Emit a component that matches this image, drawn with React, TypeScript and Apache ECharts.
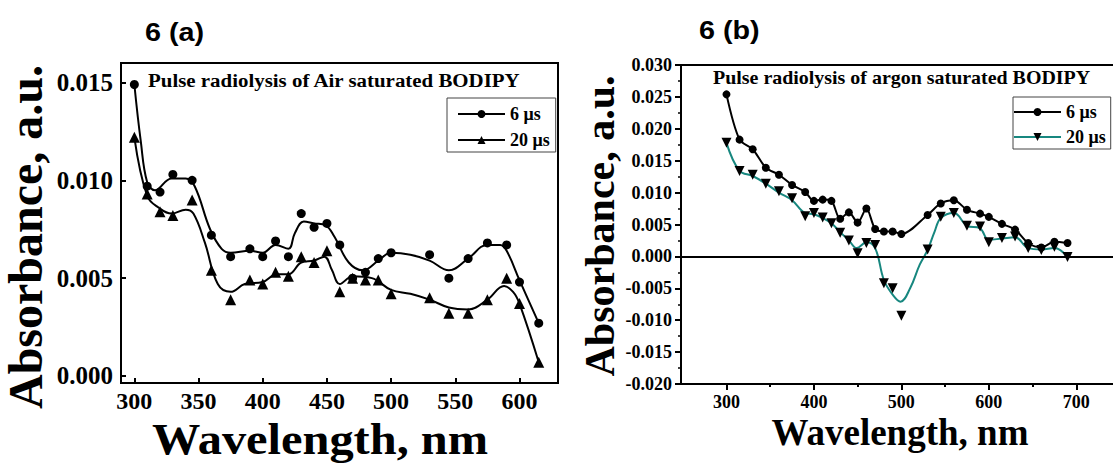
import React, { useEffect, useRef } from "react";
import * as echarts from "echarts";

// ---------- Data: 6 (a) Pulse radiolysis of Air saturated BODIPY ----------
const airWl = [300, 310, 320, 330, 345, 360, 375, 390, 400, 410, 420, 430, 440, 450, 460, 470, 480, 490, 500, 530, 545, 560, 575, 590, 600, 615];
const air6us = [0.0149, 0.0097, 0.0094, 0.0103, 0.0100, 0.0072, 0.0061, 0.0065, 0.0061, 0.0069, 0.0061, 0.0083, 0.0076, 0.0078, 0.0067, 0.0050, 0.0053, 0.0060, 0.0063, 0.0062, 0.0050, 0.0060, 0.0068, 0.0067, 0.0048, 0.0027];
const air20us = [0.0122, 0.0093, 0.0084, 0.0082, 0.0090, 0.0054, 0.0039, 0.0049, 0.0047, 0.0053, 0.0051, 0.0061, 0.0058, 0.0064, 0.0043, 0.0050, 0.0049, 0.0049, 0.0042, 0.0040, 0.0032, 0.0032, 0.0039, 0.0050, 0.0037, 0.0007];
// fitted (smoothed) curves as drawn in the figure
const air6usFitWl = [300, 305, 310, 316, 329, 340, 347, 359, 368, 375, 390, 400, 410, 420, 425, 432, 440, 449, 456, 467, 478, 490, 500, 515, 530, 545, 560, 575, 585, 590, 600, 615];
const air6usFitAbs = [0.0149, 0.0120, 0.0099, 0.0095, 0.0101, 0.0101, 0.0097, 0.0075, 0.0065, 0.0063, 0.0064, 0.0063, 0.0067, 0.0065, 0.0073, 0.0079, 0.0078, 0.0077, 0.0071, 0.0058, 0.0054, 0.0059, 0.0063, 0.0062, 0.0059, 0.0054, 0.0060, 0.0067, 0.0067, 0.0064, 0.0049, 0.0027];
const air20usFitWl = [300, 310, 319, 329, 340, 346, 355, 365, 375, 386, 400, 411, 420, 430, 440, 448, 454, 460, 470, 485, 500, 515, 530, 545, 560, 575, 588, 595, 600, 615];
const air20usFitAbs = [0.0122, 0.0092, 0.0086, 0.0083, 0.0085, 0.0083, 0.0068, 0.0047, 0.0043, 0.0047, 0.0048, 0.0052, 0.0052, 0.0058, 0.0059, 0.0061, 0.0054, 0.0047, 0.0051, 0.0050, 0.0044, 0.0042, 0.0039, 0.0035, 0.0034, 0.0039, 0.0046, 0.0043, 0.0037, 0.0007];

// ---------- Data: 6 (b) Pulse radiolysis of argon saturated BODIPY ----------
const argonWl = [300, 315, 330, 345, 360, 375, 390, 400, 410, 420, 430, 440, 450, 460, 470, 480, 490, 500, 530, 545, 560, 575, 590, 600, 615, 630, 645, 660, 675, 690];
const argon6us = [0.0254, 0.0183, 0.0168, 0.0139, 0.0128, 0.0112, 0.0101, 0.0087, 0.0089, 0.0087, 0.0059, 0.0069, 0.0053, 0.0075, 0.0043, 0.0039, 0.0039, 0.0035, 0.0065, 0.0083, 0.0088, 0.0073, 0.0067, 0.0062, 0.0051, 0.0042, 0.0021, 0.0014, 0.0023, 0.0021];
const argon20us = [0.0178, 0.0134, 0.0128, 0.0114, 0.0102, 0.0091, 0.0063, 0.0068, 0.0061, 0.0052, 0.0037, 0.0025, 0.0005, 0.0021, 0.0018, -0.0042, -0.0050, -0.0093, 0.0011, 0.0062, 0.0068, 0.0048, 0.0047, 0.0022, 0.0029, 0.0031, 0.0013, 0.0010, 0.0015, -0.0001];
const argon20usFitWl = [300, 315, 330, 345, 360, 375, 390, 400, 410, 420, 430, 440, 449, 460, 470, 480, 490, 499, 510, 521, 530, 538, 545, 560, 575, 590, 600, 615, 630, 645, 660, 675, 690];
const argon20usFitAbs = [0.0178, 0.0134, 0.0126, 0.0114, 0.0100, 0.0088, 0.0068, 0.0066, 0.0060, 0.0052, 0.0038, 0.0025, 0.0013, 0.0022, 0.0013, -0.0037, -0.0060, -0.0071, -0.0050, -0.0013, 0.0010, 0.0039, 0.0060, 0.0068, 0.0048, 0.0044, 0.0026, 0.0028, 0.0030, 0.0013, 0.0011, 0.0013, -0.0001];

// ---------- Axis tick labels ----------
const leftXTicks = [300, 350, 400, 450, 500, 550, 600];
const leftYTicks = [0, 0.005, 0.01, 0.015];
const rightXTicks = [300, 400, 500, 600, 700];
const rightXMinorTicks = [350, 450, 550, 650];
const seriesNames = ["6 μs", "20 μs"];

const SERIF = "'Liberation Serif', 'Times New Roman', serif";
const SANS = "'Liberation Sans', Arial, sans-serif";
const TEAL = "#17877f";

const zip = (xs: number[], ys: number[]) => xs.map((x, i) => [x, ys[i]]);

function leftOption(): any {
  const black = { color: "#000", width: 2 };
  const mark = { color: "#000", opacity: 1 };
  return {
    animation: false,
    grid: { left: 121, top: 63, width: 437, height: 320, show: true, borderColor: "#000", borderWidth: 2 },
    xAxis: {
      type: "value", min: 289.6, max: 630,
      axisLine: { show: true, onZero: false, lineStyle: black },
      axisTick: { show: true, inside: true, length: 5, customValues: leftXTicks, lineStyle: black },
      axisLabel: { customValues: leftXTicks, color: "#000", fontFamily: SERIF, fontWeight: "bold", fontSize: 24, margin: 6 },
      splitLine: { show: false },
    },
    yAxis: {
      type: "value", min: -0.00036, max: 0.016,
      axisLine: { show: true, onZero: false, lineStyle: black },
      axisTick: { show: true, inside: true, length: 5, customValues: leftYTicks, lineStyle: black },
      axisLabel: { customValues: leftYTicks, formatter: (v: number) => v.toFixed(3), color: "#000", fontFamily: SERIF, fontWeight: "bold", fontSize: 25, margin: 8 },
      splitLine: { show: false },
    },
    legend: {
      orient: "vertical", left: 447, top: 98, padding: [7, 6, 3, 10], itemGap: 8, itemWidth: 47, itemHeight: 10,
      borderColor: "#444", borderWidth: 1, data: seriesNames,
      textStyle: { fontFamily: SERIF, fontWeight: "bold", fontSize: 18, color: "#000" },
    },
    series: [
      { type: "line", name: seriesNames[0], data: zip(air6usFitWl, air6usFitAbs), smooth: 0.4, showSymbol: false, symbol: "circle", lineStyle: black, itemStyle: mark, z: 2 },
      { type: "line", name: seriesNames[1], data: zip(air20usFitWl, air20usFitAbs), smooth: 0.4, showSymbol: false, symbol: "triangle", lineStyle: black, itemStyle: mark, z: 2 },
      { type: "scatter", name: seriesNames[0], data: zip(airWl, air6us), symbol: "circle", symbolSize: 9, itemStyle: mark, z: 3 },
      { type: "scatter", name: seriesNames[1], data: zip(airWl, air20us), symbol: "triangle", symbolSize: 11, itemStyle: mark, z: 3 },
    ],
    graphic: [
      { type: "text", x: 145, y: 33, scaleX: 1.15, style: { text: "6 (a)", font: `bold 25px ${SANS}`, fill: "#000", textVerticalAlign: "middle" } },
      { type: "text", x: 148, y: 80, scaleX: 1.1, style: { text: "Pulse radiolysis of Air saturated BODIPY", font: `bold 19px ${SERIF}`, fill: "#000", textVerticalAlign: "middle" } },
      { type: "text", x: 25, y: 237, rotation: Math.PI / 2, style: { text: "Absorbance, a.u.", font: `bold 48px ${SERIF}`, fill: "#000", textAlign: "center", textVerticalAlign: "middle" } },
      { type: "text", x: 320, y: 439, scaleX: 1.1, style: { text: "Wavelength, nm", font: `bold 44px ${SERIF}`, fill: "#000", textAlign: "center", textVerticalAlign: "middle" } },
    ],
  };
}

function rightOption(): any {
  const black = { color: "#000", width: 2 };
  const mark = { color: "#000", opacity: 1 };
  return {
    animation: false,
    grid: { left: 121, top: 65, width: 432, height: 319 },
    xAxis: [
      {
        type: "value", min: 248, max: 742,
        axisLine: { show: true, onZero: false, lineStyle: black },
        axisTick: { show: true, length: 6, customValues: rightXTicks, lineStyle: black },
        axisLabel: { customValues: rightXTicks, color: "#000", fontFamily: SERIF, fontWeight: "bold", fontSize: 18, margin: 9 },
        splitLine: { show: false },
      },
      {
        type: "value", min: 248, max: 742, position: "bottom",
        axisLine: { show: false, onZero: false },
        axisTick: { show: true, length: 3, customValues: rightXMinorTicks, lineStyle: black },
        axisLabel: { show: false },
        splitLine: { show: false },
      },
      {
        type: "value", min: 248, max: 742, position: "top",
        axisLine: { show: true, onZero: false, lineStyle: black },
        axisTick: { show: false }, axisLabel: { show: false }, splitLine: { show: false },
      },
    ],
    yAxis: {
      type: "value", min: -0.02, max: 0.03, interval: 0.005,
      axisLine: { show: true, onZero: false, lineStyle: black },
      axisTick: { show: true, length: 6, lineStyle: black },
      minorTick: { show: true, splitNumber: 2, length: 3, lineStyle: { color: "#000", width: 1.5 } },
      axisLabel: { formatter: (v: number) => v.toFixed(3), color: "#000", fontFamily: SERIF, fontWeight: "bold", fontSize: 18, margin: 9 },
      splitLine: { show: false },
    },
    legend: {
      orient: "vertical", left: 453, top: 97, padding: [6, 5, 3, 0], itemGap: 7, itemWidth: 47, itemHeight: 10,
      borderColor: "#444", borderWidth: 1, data: seriesNames,
      textStyle: { fontFamily: SERIF, fontWeight: "bold", fontSize: 18, color: "#000" },
    },
    series: [
      {
        type: "line", name: seriesNames[0], data: zip(argonWl, argon6us), smooth: 0.3, showSymbol: true, symbol: "circle", symbolSize: 8,
        lineStyle: black, itemStyle: mark, z: 3,
        markLine: { silent: true, symbol: ["none", "none"], label: { show: false }, lineStyle: { color: "#000", width: 2, type: "solid" }, data: [{ yAxis: 0 }] },
      },
      { type: "line", name: seriesNames[1], data: zip(argon20usFitWl, argon20usFitAbs), smooth: 0.4, showSymbol: false, symbol: "triangle", symbolRotate: 180, lineStyle: { color: TEAL, width: 2 }, itemStyle: mark, z: 2 },
      { type: "scatter", name: seriesNames[1], data: zip(argonWl, argon20us), symbol: "triangle", symbolRotate: 180, symbolSize: 10, itemStyle: mark, z: 4 },
    ],
    graphic: [
      { type: "text", x: 139, y: 31, scaleX: 1.15, style: { text: "6 (b)", font: `bold 25px ${SANS}`, fill: "#000", textVerticalAlign: "middle" } },
      { type: "text", x: 153, y: 78, scaleX: 1.05, style: { text: "Pulse radiolysis of argon saturated BODIPY", font: `bold 19px ${SERIF}`, fill: "#000", textVerticalAlign: "middle" } },
      { type: "text", x: 40, y: 226, rotation: Math.PI / 2, style: { text: "Absorbance, a.u.", font: `bold 42px ${SERIF}`, fill: "#000", textAlign: "center", textVerticalAlign: "middle" } },
      { type: "text", x: 340, y: 432, style: { text: "Wavelength, nm", font: `bold 37px ${SERIF}`, fill: "#000", textAlign: "center", textVerticalAlign: "middle" } },
    ],
  };
}

export default function App() {
  const leftRef = useRef<HTMLDivElement>(null);
  const rightRef = useRef<HTMLDivElement>(null);

  useEffect(() => {
    const l = echarts.init(leftRef.current!, undefined, { renderer: "svg" });
    const r = echarts.init(rightRef.current!, undefined, { renderer: "svg" });
    l.setOption(leftOption());
    r.setOption(rightOption());
    return () => {
      l.dispose();
      r.dispose();
    };
  }, []);

  return (
    <div style={{ position: "absolute", left: 0, top: 0, width: 1113, height: 466, background: "#fff", overflow: "hidden" }}>
      <div ref={leftRef} style={{ position: "absolute", left: 0, top: 0, width: 560, height: 466 }} />
      <div ref={rightRef} style={{ position: "absolute", left: 560, top: 0, width: 553, height: 466 }} />
    </div>
  );
}
